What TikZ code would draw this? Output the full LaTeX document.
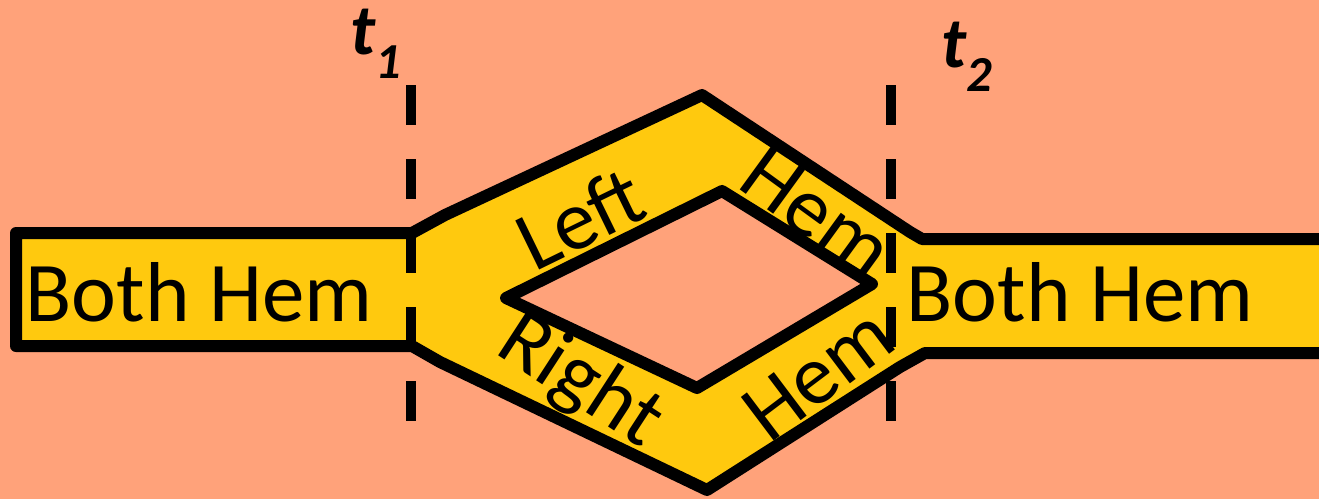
\documentclass[tikz,border=0pt]{standalone}
\usepackage{fontspec}
\setmainfont{Carlito}
\usetikzlibrary{positioning}
\definecolor{hemsalmon}{RGB}{255,162,122}
\definecolor{hemgold}{RGB}{255,201,14}

\begin{document}
\begin{tikzpicture}[
  x=1pt, y=-1pt,
  band/.style={draw=black, line width=12pt, line join=round},
  lbl/.style={font=\fontsize{85}{100}\selectfont, inner sep=0pt},
  tlbl/.style={font=\fontsize{72}{80}\selectfont\bfseries\itshape, inner sep=0pt},
  tick/.style={draw=black, line width=10pt, dash pattern=on 40pt off 34pt}
]

% Background
\fill[hemsalmon] (0,0) rectangle (1319,499);
\useasboundingbox (0,0) rectangle (1319,499);

% Yellow band that splits into two arms
\filldraw[band, fill=hemgold] (16,233) -- (412,233) -- (445,215) -- (702,95)
  -- (910,232) -- (922,239) -- (1335,239) -- (1335,353) -- (925,353)
  -- (900,367) -- (707,490) -- (440,362) -- (412,346) -- (16,346) -- cycle;

% Hole between the arms
\filldraw[band, fill=hemsalmon] (506,298) -- (722,191) -- (872,284) -- (697,388) -- cycle;

% Time marks
\coordinate (t1top) at (411,85);
\coordinate (t1bot) at (411,421);
\coordinate (t2top) at (891,85);
\coordinate (t2bot) at (891,421);
\draw[tick] (t1top) -- (t1bot);
\draw[tick] (t2top) -- (t2bot);

\node[tlbl] (t1) at (376,44) {t\textsubscript{1}};
\node[tlbl] (t2) at (967,57) {t\textsubscript{2}};

% Labels
\node[lbl, anchor=base] (bothL) at (199,321) {Both Hem};
\node[lbl, anchor=base] (bothR) at (1080,321) {Both Hem};
\node[lbl, rotate=26] (left) at (580,218) {Left};
\node[lbl, rotate=-36] (hemup) at (817,213) {Hem};
\node[lbl, rotate=-33] (right) at (580,382) {Right};
\node[lbl, rotate=37] (hemdown) at (818,374) {Hem};

\end{tikzpicture}
\end{document}
